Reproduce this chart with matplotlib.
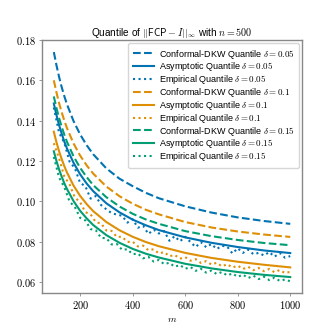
import matplotlib
matplotlib.use("Agg")
import matplotlib.pyplot as plt
from matplotlib.ticker import FuncFormatter

plt.rcParams['mathtext.fontset'] = 'cm'
plt.rcParams['font.family'] = ['Liberation Sans', 'DejaVu Sans']

# smooth curves
m_smooth = [100, 110, 120, 130, 140, 150, 175, 200, 225, 250, 300, 350, 400,
            450, 500, 600, 700, 800, 900, 1000]
dkw_05 = [0.174, 0.1675, 0.1617, 0.1566, 0.1521, 0.1481, 0.1398, 0.1332, 0.1278, 0.1233,
          0.1163, 0.1112, 0.1075, 0.1042, 0.1015, 0.0975, 0.0944, 0.0920, 0.0902, 0.0888]
dkw_10 = [0.160, 0.1540, 0.1487, 0.1441, 0.1400, 0.1363, 0.1287, 0.1227, 0.1178, 0.1137,
          0.1073, 0.1025, 0.0988, 0.0958, 0.0935, 0.0897, 0.0870, 0.0850, 0.0835, 0.0823]
dkw_15 = [0.152, 0.1463, 0.1413, 0.1369, 0.1330, 0.1295, 0.1223, 0.1166, 0.1120, 0.1080,
          0.1020, 0.0974, 0.0938, 0.0910, 0.0888, 0.0852, 0.0827, 0.0808, 0.0793, 0.0782]
asy_05 = [0.1485, 0.1428, 0.1378, 0.1335, 0.1296, 0.1262, 0.1191, 0.1134, 0.1088, 0.1050,
          0.0990, 0.0945, 0.0909, 0.0881, 0.0857, 0.0821, 0.0794, 0.0773, 0.0756, 0.0743]
asy_10 = [0.1345, 0.1293, 0.1248, 0.1209, 0.1174, 0.1143, 0.1078, 0.1027, 0.0986, 0.0951,
          0.0897, 0.0856, 0.0824, 0.0798, 0.0777, 0.0744, 0.0719, 0.0700, 0.0685, 0.0672]
asy_15 = [0.1248, 0.1200, 0.1158, 0.1122, 0.1089, 0.1061, 0.1001, 0.0953, 0.0915, 0.0882,
          0.0832, 0.0794, 0.0764, 0.0740, 0.0721, 0.0690, 0.0667, 0.0649, 0.0635, 0.0624]

# empirical (noisy) quantiles
m_emp = list(range(100, 1001, 20))
emp_05 = [0.1465, 0.1340, 0.1290, 0.1196, 0.1165, 0.1091, 0.1075, 0.1013, 0.1026, 0.0981,
          0.0960, 0.0941, 0.0934, 0.0928, 0.0894, 0.0911, 0.0869, 0.0878, 0.0838, 0.0859,
          0.0840, 0.0852, 0.0804, 0.0827, 0.0801, 0.0824, 0.0798, 0.0773, 0.0797, 0.0772,
          0.0788, 0.0763, 0.0779, 0.0775, 0.0741, 0.0767, 0.0744, 0.0760, 0.0737, 0.0744,
          0.0731, 0.0748, 0.0725, 0.0743, 0.0720, 0.0728]
emp_10 = [0.1288, 0.1212, 0.1122, 0.1084, 0.1018, 0.0996, 0.0946, 0.0935, 0.0896, 0.0890,
          0.0855, 0.0853, 0.0823, 0.0824, 0.0798, 0.0800, 0.0776, 0.0780, 0.0757, 0.0762,
          0.0741, 0.0748, 0.0727, 0.0734, 0.0715, 0.0723, 0.0705, 0.0713, 0.0694, 0.0703,
          0.0686, 0.0695, 0.0677, 0.0688, 0.0671, 0.0681, 0.0664, 0.0675, 0.0658, 0.0669,
          0.0653, 0.0664, 0.0648, 0.0659, 0.0644, 0.0650]
emp_15 = [0.1220, 0.1118, 0.1070, 0.0998, 0.0972, 0.0918, 0.0905, 0.0862, 0.0856, 0.0818,
          0.0817, 0.0786, 0.0788, 0.0759, 0.0762, 0.0737, 0.0741, 0.0717, 0.0724, 0.0701,
          0.0709, 0.0688, 0.0695, 0.0675, 0.0684, 0.0665, 0.0674, 0.0655, 0.0665, 0.0646,
          0.0656, 0.0639, 0.0649, 0.0632, 0.0642, 0.0625, 0.0636, 0.0619, 0.0631, 0.0614,
          0.0626, 0.0609, 0.0621, 0.0605, 0.0612, 0.0603]

deltas = ['0.05', '0.1', '0.15']
colors = ['#0173b2', '#de8f05', '#029e73']
dkw = [dkw_05, dkw_10, dkw_15]
asy = [asy_05, asy_10, asy_15]
emp = [emp_05, emp_10, emp_15]

fig = plt.figure(figsize=(3.36, 3.36), dpi=100)
ax = fig.add_axes([0.125, 0.128, 0.774, 0.753])

for d, c, yd, ya, ye in zip(deltas, colors, dkw, asy, emp):
    ax.plot(m_smooth, yd, '--', color=c, lw=1.5, label=r'Conformal-DKW Quantile $\delta = %s$' % d)
    ax.plot(m_smooth, ya, '-', color=c, lw=1.5, label=r'Asymptotic Quantile $\delta = %s$' % d)
    ax.plot(m_emp, ye, ':', color=c, lw=1.5, label=r'Empirical Quantile $\delta = %s$' % d)

ax.set_ylim(0.0545, 0.18)
ax.set_yticks([0.06, 0.08, 0.10, 0.12, 0.14, 0.16, 0.18])
ax.set_xticks([200, 400, 600, 800, 1000])
ax.yaxis.set_major_formatter(FuncFormatter(lambda v, p: r'$%.2f$' % v))
ax.xaxis.set_major_formatter(FuncFormatter(lambda v, p: r'$%d$' % v))
ax.tick_params(labelsize=7.5, length=2.5, width=0.6, color='#888888', pad=2)

for s in ax.spines.values():
    s.set_color('#888888')
    s.set_linewidth(1.0)

ax.set_title(r'Quantile of $||\mathsf{FCP} - I||_\infty$ with $n = 500$', fontsize=7.2, pad=3)
ax.set_xlabel(r'$m$', fontsize=7, labelpad=2)

ax.legend(loc='upper right', fontsize=6.5, handlelength=2.3, handletextpad=0.55,
          labelspacing=-0.02, borderpad=0.5, borderaxespad=0.35, framealpha=0.8,
          edgecolor='#cccccc', fancybox=True)

fig.savefig('out.png', dpi=100)
